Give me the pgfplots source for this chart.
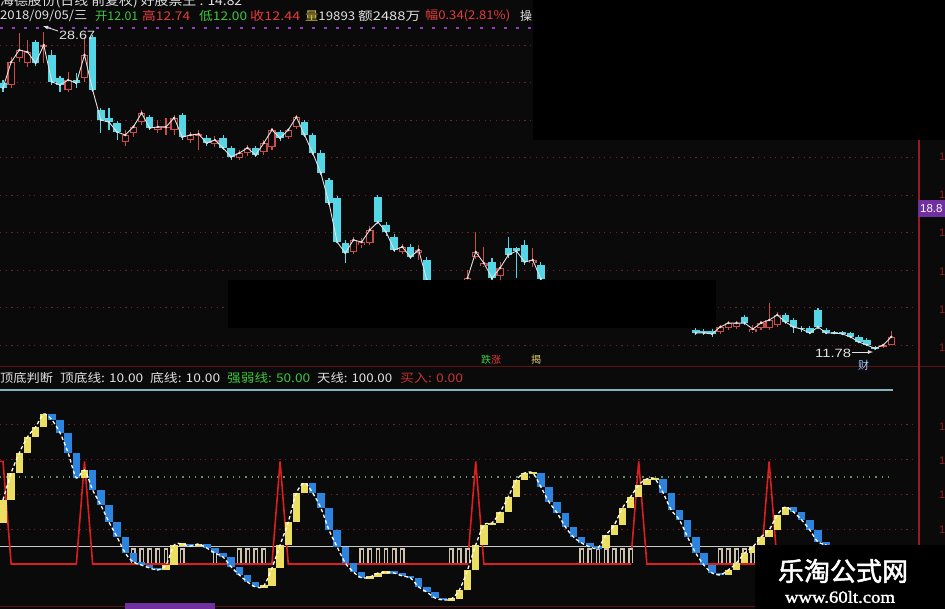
\documentclass[border=0pt]{standalone}
\usepackage{pgfplots}
\pgfplotsset{compat=1.18}
\usepackage{pgfplotstable}
\usepackage{fontspec}
\setmainfont{Liberation Sans}
\newfontfamily\cjk{Noto Sans CJK SC}
\newfontfamily\cjkb{Noto Sans CJK SC}[FakeBold=2]
\newfontfamily\serifb{Liberation Serif}[FakeBold=1.5]

\definecolor{bg}{RGB}{10,10,10}
\definecolor{cyanC}{RGB}{84,214,230}
\definecolor{redC}{RGB}{205,75,75}
\definecolor{gridred}{RGB}{120,32,32}
\definecolor{yellowB}{RGB}{236,222,96}
\definecolor{blueB}{RGB}{44,132,222}
\definecolor{spikeRed}{RGB}{220,30,30}
\definecolor{greyBar}{RGB}{205,195,175}
\definecolor{line10}{RGB}{200,200,200}
\definecolor{topCyan}{RGB}{130,180,190}
\definecolor{greenDot}{RGB}{90,150,90}
\definecolor{txtGreen}{RGB}{60,200,60}
\definecolor{txtRed}{RGB}{230,60,60}
\definecolor{txtYellow}{RGB}{220,200,70}
\definecolor{txtWhite}{RGB}{225,225,225}
\definecolor{purpleLbl}{RGB}{112,48,160}
\definecolor{purpleDot}{RGB}{150,60,190}
\definecolor{axisRed}{RGB}{150,30,30}
\definecolor{sepRed}{RGB}{90,20,20}
\definecolor{caiBlue}{RGB}{160,200,255}

\pgfplotsset{bars/.style={only marks, mark=*, mark size=0pt, mark options={draw=none, fill=none}, forget plot}}

% daily candles: index, open, high, low, close
\pgfplotstableread{
i o h l c
0 25.97 26.13 25.49 25.71
1 25.87 27.36 25.71 27.09
2 27.31 28.64 27.09 27.73
3 27.04 28.27 26.83 27.63
4 28.16 28.27 26.88 27.04
5 27.89 28.67 27.04 28.00
6 27.47 27.73 25.87 26.03
7 26.24 26.35 25.49 25.87
8 25.60 26.56 25.49 26.13
9 26.13 26.51 25.71 25.97
10 26.24 28.43 26.03 27.47
11 28.43 28.53 25.49 25.60
12 24.53 24.64 23.31 24.00
13 24.11 24.64 23.47 23.89
14 23.84 23.95 22.93 23.36
15 22.83 23.47 22.61 23.20
16 23.31 23.73 23.09 23.63
17 23.89 24.53 23.73 24.37
18 24.16 24.27 23.47 23.57
19 23.47 24.00 23.31 23.63
20 23.57 24.11 23.20 23.63
21 23.47 24.27 23.20 24.11
22 24.27 24.37 22.93 23.09
23 22.93 23.36 22.77 23.20
24 23.20 23.47 22.40 23.25
25 23.04 23.20 22.61 22.77
26 22.72 23.15 22.56 22.93
27 23.04 23.20 22.40 22.51
28 22.51 22.61 21.87 22.03
29 21.97 22.40 21.87 22.24
30 22.24 22.67 22.08 22.51
31 22.51 22.61 22.03 22.13
32 22.29 22.93 22.13 22.77
33 22.56 23.57 22.40 23.47
34 23.36 23.47 22.88 23.04
35 23.09 23.57 22.99 23.47
36 23.63 24.27 23.52 24.16
37 23.89 24.00 23.09 23.20
38 23.20 23.31 22.13 22.24
39 22.24 22.40 21.07 21.17
40 20.80 20.91 19.47 19.57
41 19.84 19.95 17.44 17.49
42 17.44 17.60 16.37 16.91
43 16.96 17.76 16.85 17.60
44 17.33 17.71 17.17 17.49
45 17.44 18.35 17.33 18.13
46 19.89 20.00 18.45 18.56
47 18.40 18.56 17.81 18.03
48 17.76 17.92 16.96 17.07
49 16.96 17.39 16.85 17.23
50 17.23 17.39 16.59 16.69
51 16.91 17.33 16.53 17.07
52 16.53 16.69 15.31 15.47
57 14.93 16.00 14.67 15.57
58 16.69 18.03 16.59 16.96
59 16.21 17.23 16.16 16.37
60 16.43 16.64 15.31 15.57
61 15.68 16.43 15.47 16.11
62 17.17 17.76 16.64 16.80
63 17.17 17.23 15.57 17.01
64 17.33 17.60 16.27 16.43
65 16.37 17.17 16.16 16.53
66 16.27 16.43 15.31 15.52
85 12.80 12.91 12.53 12.64
86 12.75 12.85 12.53 12.64
87 12.75 12.85 12.43 12.59
88 12.69 13.07 12.59 12.96
89 12.91 13.28 12.80 13.17
90 12.96 13.28 12.85 13.17
91 13.49 13.60 13.07 13.17
92 12.69 13.07 12.64 12.85
93 12.91 13.28 12.80 13.17
94 12.91 14.24 12.80 13.33
95 13.07 13.76 12.96 13.60
96 13.60 13.71 13.12 13.23
97 13.33 13.44 12.64 12.96
98 12.91 13.01 12.69 12.85
99 12.91 13.01 12.59 12.64
100 13.87 13.97 12.85 12.96
101 12.80 12.91 12.59 12.64
102 12.69 12.75 12.59 12.64
103 12.69 12.75 12.53 12.59
104 12.64 12.69 12.37 12.43
105 12.43 12.53 12.11 12.16
106 12.27 12.37 11.95 12.00
107 11.89 11.95 11.78 11.81
108 11.89 12.05 11.84 12.00
109 12.01 12.74 12.00 12.44
}\candles

% oscillator: index, previous value, value
\pgfplotstableread{
i p v
0 23.6 36.8
1 36.8 52.3
2 52.3 63.8
3 63.8 73.0
4 73.0 78.7
5 78.7 86.2
6 86.2 82.8
7 82.8 75.3
8 75.3 63.8
9 63.8 49.4
10 49.4 54.0
11 54.0 42.5
12 42.5 33.9
13 33.9 24.1
14 24.1 15.5
15 15.5 6.3
16 6.3 1.1
17 1.1 -0.6
18 -0.6 -2.3
19 -2.3 -3.4
20 -3.4 -0.6
21 -0.6 10.9
22 10.9 11.5
23 11.5 10.3
24 10.3 11.5
25 11.5 9.2
26 9.2 6.3
27 6.3 4.0
28 4.0 -1.7
29 -1.7 -6.3
30 -6.3 -10.3
31 -10.3 -13.2
32 -13.2 -12.6
33 -12.6 -2.3
34 -2.3 10.9
35 10.9 24.1
36 24.1 40.8
37 40.8 46.6
38 46.6 40.8
39 40.8 32.2
40 32.2 19.5
41 19.5 9.8
42 9.8 0.6
43 0.6 -4.6
44 -4.6 -8.0
45 -8.0 -7.5
46 -7.5 -5.2
47 -5.2 -4.6
48 -4.6 -5.2
49 -5.2 -6.9
50 -6.9 -8.0
51 -8.0 -13.2
52 -13.2 -16.1
53 -16.1 -19.5
54 -19.5 -20.7
55 -20.7 -20.1
56 -20.1 -14.9
57 -14.9 -3.4
58 -3.4 10.9
59 10.9 22.4
60 22.4 23.6
61 23.6 29.9
62 29.9 38.5
63 38.5 48.3
64 48.3 52.3
65 52.3 52.3
66 52.3 44.3
67 44.3 35.6
68 35.6 29.3
69 29.3 21.3
70 21.3 15.5
71 15.5 12.1
72 12.1 9.8
73 9.8 9.2
74 9.2 16.7
75 16.7 22.4
76 22.4 32.2
77 32.2 38.5
78 38.5 45.4
79 45.4 48.9
80 48.9 48.9
81 48.9 40.8
82 40.8 31.0
83 31.0 25.3
84 25.3 15.5
85 15.5 6.3
86 6.3 -0.6
87 -0.6 -5.2
88 -5.2 -6.3
89 -6.3 -3.4
90 -3.4 0.6
91 0.6 6.3
92 6.3 9.8
93 9.8 15.5
94 15.5 19.5
95 19.5 28.2
96 28.2 32.8
97 32.8 29.9
98 29.9 25.3
99 25.3 19.5
100 19.5 12.6
101 12.6 10.9
102 10.9 6.9
103 6.9 3.4
104 3.4 0.6
105 0.6 -1.1
106 -1.1 -2.3
107 -2.3 -1.7
108 -1.7 0.6
109 0.6 3.4
}\osc

% bottom signal bars: index, top, bottom
\pgfplotstableread{
i top bot
16 9.2 0.6
17 9.2 0.6
18 9.2 0.6
19 9.2 0.6
20 9.2 0.6
21 9.2 0.6
22 9.2 0.6
26 9.2 0.6
29 9.2 0.6
30 9.2 0.6
31 9.2 0.6
32 9.2 0.6
44 9.2 0.6
45 9.2 0.6
46 9.2 0.6
47 9.2 0.6
48 9.2 0.6
49 9.2 0.6
55 9.2 0.6
56 9.2 0.6
57 9.2 0.6
71 9.2 0.6
72 9.2 0.6
73 9.2 0.6
74 9.2 0.6
75 9.2 0.6
76 9.2 0.6
77 9.2 0.6
88 9.2 0.6
89 9.2 0.6
90 9.2 0.6
91 9.2 0.6
92 9.2 0.6
}\sig

\newcommand{\fitw}[2]{\resizebox{#1pt}{\height}{#2}}

\begin{document}
\begin{tikzpicture}
\useasboundingbox (0pt,0pt) rectangle (945pt,-609pt);
\fill[bg] (0pt,0pt) rectangle (945pt,-609pt);
\begin{scope}
\clip (0pt,0pt) rectangle (945pt,-609pt);

% ---------- upper price panel ----------
\begin{axis}[at={(0pt,-30pt)}, anchor=north west, scale only axis,
  width=918pt, height=338pt,
  xmin=-0.368, xmax=112.27, ymin=10.773, ymax=28.8,
  axis line style={draw=none}, xtick=\empty,
  ytick={12,14,...,28}, yticklabels={}, ytick style={draw=none},
  ymajorgrids, major grid style={gridred, line width=0.9pt, dash pattern=on 1.2pt off 4.5pt}]
% wicks
\addplot[bars, restrict expr to domain={\thisrow{o}-\thisrow{c}}{0.0001:100},
  error bars/.cd, y dir=both, y explicit, error mark=none,
  error bar style={draw=cyanC, line width=1.1pt, solid}]
  table[x=i, y=c, y error plus expr={\thisrow{h}-\thisrow{c}}, y error minus expr={\thisrow{c}-\thisrow{l}}] {\candles};
\addplot[bars, restrict expr to domain={\thisrow{c}-\thisrow{o}}{0:100},
  error bars/.cd, y dir=both, y explicit, error mark=none,
  error bar style={draw=redC, line width=1.1pt, solid}]
  table[x=i, y=c, y error plus expr={\thisrow{h}-\thisrow{c}}, y error minus expr={\thisrow{c}-\thisrow{l}}] {\candles};
% falling bodies (filled cyan)
\addplot[bars, restrict expr to domain={\thisrow{o}-\thisrow{c}}{0.0001:100},
  error bars/.cd, y dir=both, y explicit, error mark=none,
  error bar style={draw=cyanC, line width=7.5pt, solid}]
  table[x=i, y expr={(\thisrow{o}+\thisrow{c})/2}, y error expr={max(abs(\thisrow{o}-\thisrow{c})/2,0.04)}] {\candles};
% rising bodies (hollow red)
\addplot[bars, restrict expr to domain={\thisrow{c}-\thisrow{o}}{0:100},
  error bars/.cd, y dir=both, y explicit, error mark=none,
  error bar style={draw=redC, line width=7.5pt, solid}]
  table[x=i, y expr={(\thisrow{o}+\thisrow{c})/2}, y error expr={max(abs(\thisrow{c}-\thisrow{o})/2,0.04)}] {\candles};
\addplot[bars, restrict expr to domain={\thisrow{c}-\thisrow{o}}{0:100},
  error bars/.cd, y dir=both, y explicit, error mark=none,
  error bar style={draw=bg, line width=5pt, solid}]
  table[x=i, y expr={(\thisrow{o}+\thisrow{c})/2}, y error expr={max(abs(\thisrow{c}-\thisrow{o})/2-0.065,0)}] {\candles};
% white close line
\addplot[txtWhite, line width=0.9pt, mark=*, mark size=0.7pt, restrict x to domain=0:52] table[x=i, y=c] {\candles};
\addplot[txtWhite, line width=0.9pt, mark=*, mark size=0.7pt, restrict x to domain=57:66] table[x=i, y=c] {\candles};
\addplot[txtWhite, line width=0.9pt, mark=*, mark size=0.7pt, restrict x to domain=85:109] table[x=i, y=c] {\candles};
\end{axis}

% ---------- lower indicator panel ----------
\begin{axis}[at={(0pt,-385pt)}, anchor=north west, scale only axis,
  width=918pt, height=224pt,
  xmin=-0.368, xmax=112.27, ymin=-25.86, ymax=102.87,
  axis line style={draw=none}, xtick=\empty,
  ytick={20,40,60,80}, yticklabels={}, ytick style={draw=none},
  ymajorgrids, major grid style={gridred, line width=0.9pt, dash pattern=on 1.2pt off 4.5pt}]
\addplot[topCyan, line width=1.5pt] coordinates {(-0.4,100) (109.2,100)};
\addplot[greenDot, line width=1.1pt, dash pattern=on 1.3pt off 5pt] coordinates {(-0.4,50) (109.2,50)};
\addplot[line10, line width=1.6pt] coordinates {(-0.4,10) (112.3,10)};
\addplot[spikeRed, line width=1.6pt] coordinates {(-0.4,59) (0,59) (1,0) (9,0) (10,59) (11,0) (33,0) (34,59) (35,0) (57,0) (58,59) (59,0) (77,0) (78,59) (79,0) (93,0) (94,59) (95,0) (112.3,0)};
% signal bars
\addplot[bars, error bars/.cd, y dir=both, y explicit, error mark=none,
  error bar style={draw=greyBar, line width=4.8pt, solid}]
  table[x=i, y expr={(\thisrow{top}+\thisrow{bot})/2}, y error expr={(\thisrow{top}-\thisrow{bot})/2}] {\sig};
\addplot[bars, error bars/.cd, y dir=both, y explicit, error mark=none,
  error bar style={draw=bg, line width=2pt, solid}]
  table[x=i, y expr={(\thisrow{top}+\thisrow{bot})/2-0.65}, y error expr={(\thisrow{top}-\thisrow{bot})/2-0.65}] {\sig};
% oscillator step bars
\addplot[bars, restrict expr to domain={\thisrow{v}-\thisrow{p}}{0:200},
  error bars/.cd, y dir=both, y explicit, error mark=none,
  error bar style={draw=yellowB, line width=7.5pt, solid}]
  table[x=i, y expr={(\thisrow{p}+\thisrow{v})/2}, y error expr={max(abs(\thisrow{v}-\thisrow{p})/2,0.8)}] {\osc};
\addplot[bars, restrict expr to domain={\thisrow{p}-\thisrow{v}}{0.0001:200},
  error bars/.cd, y dir=both, y explicit, error mark=none,
  error bar style={draw=blueB, line width=7.5pt, solid}]
  table[x=i, y expr={(\thisrow{p}+\thisrow{v})/2}, y error expr={max(abs(\thisrow{v}-\thisrow{p})/2,0.8)}] {\osc};
\addplot[white, line width=1.3pt, dash pattern=on 3.5pt off 2.5pt, smooth] table[x=i, y=v] {\osc};
\end{axis}

% ---------- overlays and text ----------
\begin{scope}[x=1pt, y=-1pt]
\fill[black] (533,0) rectangle (945,140);
\fill[black] (228,280) rectangle (716,328);
\draw[sepRed, line width=1pt] (0,367) -- (945,367);
\draw[axisRed, line width=1.3pt] (919,140) -- (919,609);
\draw[sepRed, line width=1pt] (0,606) -- (945,606);
\fill[purpleLbl] (125,603) rectangle (215,612);
\foreach \yy in {157,195,233,272,310,348,427,461,495,530}
  \node[anchor=west, inner sep=0pt, text=axisRed, font=\fontsize{11}{11}\selectfont] at (939,\yy) {1};
\fill[purpleLbl] (918,200) rectangle (945,217);
\node[anchor=west, inner sep=0pt, text=white, font=\fontsize{11.5}{11.5}\selectfont] at (920,208.5) {18.8};

% header lines
\node[anchor=base west, inner sep=0pt, text=txtWhite, font=\cjk\fontsize{13}{13}\selectfont] at (0,6) {\fitw{242}{海德股份(日线 前复权) 好股票王 : 14.82}};
\begin{scope}[every node/.style={anchor=west, inner sep=0pt, font=\cjk\fontsize{12}{12}\selectfont}]
\node[text=txtWhite] at (0,16) {\fitw{87}{2018/09/05/三}};
\node[text=txtGreen] at (95,16) {\fitw{43}{开12.01}};
\node[text=txtRed] at (142,16) {\fitw{48}{高12.74}};
\node[text=txtGreen] at (199,16) {\fitw{48}{低12.00}};
\node[text=txtRed] at (250,16) {\fitw{50}{收12.44}};
\node at (305,16) {\fitw{50}{\textcolor{txtYellow}{量}\textcolor{txtWhite}{19893}}};
\node[text=txtWhite] at (358,16) {\fitw{62}{额2488万}};
\node[text=txtRed] at (425,16) {\fitw{85}{幅0.34(2.81\%)}};
\node[text=txtWhite] at (520,16) {操};
% indicator title
\node[text=txtWhite] at (0,378) {\fitw{53}{顶底判断}};
\node[text=txtWhite] at (60,378) {\fitw{83}{顶底线: 10.00}};
\node[text=txtWhite] at (150,378) {\fitw{70}{底线: 10.00}};
\node[text=txtGreen] at (227,378) {\fitw{83}{强弱线: 50.00}};
\node[text=txtWhite] at (317,378) {\fitw{75}{天线: 100.00}};
\node[text=txtRed!85!black] at (400,378) {\fitw{63}{买入: 0.00}};
\end{scope}
\draw[purpleDot, line width=1.6pt, dash pattern=on 3pt off 9pt] (0,28) -- (533,28);

% price annotations
\draw[txtWhite, line width=0.8pt, -latex] (58,31) -- (43,26);
\node[anchor=west, inner sep=0pt, text=txtWhite, font=\fontsize{12}{12}\selectfont] at (59,35) {\fitw{36}{28.67}};
\node[anchor=west, inner sep=0pt, text=txtWhite, font=\fontsize{12}{12}\selectfont] at (815,353) {\fitw{36}{11.78}};
\draw[txtWhite, line width=0.8pt, -latex] (852,352) -- (873,352);
\node[anchor=west, inner sep=0pt, text=caiBlue, font=\cjk\fontsize{11}{11}\selectfont] at (858,365) {财};
\node[anchor=west, inner sep=0pt, font=\cjk\fontsize{10}{10}\selectfont] at (481,360) {\textcolor{txtGreen}{跌}\textcolor{txtRed}{涨}};
\node[anchor=west, inner sep=0pt, text=txtYellow!80!white, font=\cjk\fontsize{10}{10}\selectfont] at (531,360) {揭};

% watermark
\fill[black] (755,545) rectangle (945,609);
\node[anchor=center, inner sep=0pt, text=white, font=\cjkb\fontsize{26}{26}\selectfont] at (843,571) {乐淘公式网};
\node[anchor=center, inner sep=0pt, text=white, font=\serifb\fontsize{17}{17}\selectfont] at (840,597) {\fitw{110}{www.60lt.com}};
\end{scope}
\end{scope}
\end{tikzpicture}
\end{document}
